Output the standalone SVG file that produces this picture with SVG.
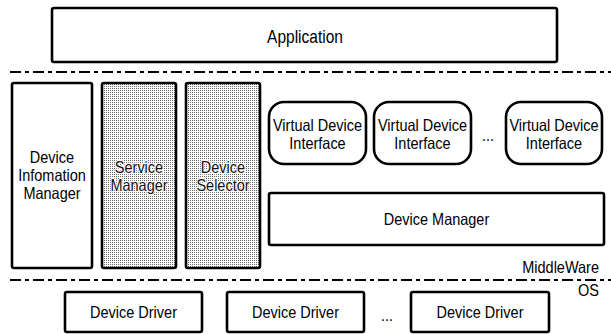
<svg xmlns="http://www.w3.org/2000/svg" width="611" height="334" viewBox="0 0 611 334">
<style>
.box{fill:#fff;stroke:#000;stroke-width:2.6}
.shade{fill:url(#dots);stroke:#000;stroke-width:2.6}
.t,.ts{font-family:"Liberation Sans",Arial,sans-serif;font-size:14.5px;text-anchor:middle;transform-box:fill-box;transform-origin:center;transform:scaleY(1.15)}
.t{fill:#000}
.ts{fill:#111;stroke:#fff;stroke-width:2;paint-order:stroke}
.r{text-anchor:end}
.sep{stroke:#000;stroke-width:2.2;stroke-dasharray:11 4 4 4;fill:none}
</style>
<defs>
<pattern id="dots" width="2" height="2" patternUnits="userSpaceOnUse">
<rect width="2" height="2" fill="#fff"/>
<rect width="1" height="1" fill="#666"/>
</pattern>
</defs>
<g id="app"><rect class="box" x="52" y="8" width="505" height="54" rx="2"/><text class="t" x="305" y="42" style="font-size:15.5px">Application</text></g>
<g id="separators">
<line class="sep" x1="10" y1="72" x2="611" y2="72"/>
<line class="sep" x1="10" y1="280" x2="611" y2="280"/>
</g>
<g id="dim"><rect class="box" x="12" y="83" width="80" height="185" rx="2"/>
<text class="t" x="52" y="162">Device</text><text class="t" x="52" y="180">Infomation</text><text class="t" x="52" y="198">Manager</text></g>
<g id="sm"><rect class="shade" x="102" y="83" width="74" height="185" rx="2"/>
<text class="ts" x="139" y="172">Service</text><text class="ts" x="139" y="190">Manager</text></g>
<g id="ds"><rect class="shade" x="186" y="83" width="74" height="185" rx="2"/>
<text class="ts" x="223" y="172">Device</text><text class="ts" x="223" y="190">Selector</text></g>
<g id="vdi1"><rect class="box" x="269" y="102" width="97" height="62" rx="15"/>
<text class="t" x="317.5" y="130">Virtual Device</text><text class="t" x="317.5" y="148">Interface</text></g>
<g id="vdi2"><rect class="box" x="374" y="102" width="97" height="62" rx="15"/>
<text class="t" x="422.5" y="130">Virtual Device</text><text class="t" x="422.5" y="148">Interface</text></g>
<text class="t" x="488" y="140">...</text>
<g id="vdi3"><rect class="box" x="506" y="102" width="96" height="62" rx="15"/>
<text class="t" x="554" y="130">Virtual Device</text><text class="t" x="554" y="148">Interface</text></g>
<g id="dm"><rect class="box" x="269" y="193" width="335" height="52" rx="2"/>
<text class="t" x="436.5" y="224">Device Manager</text></g>
<text class="t r" x="599" y="272">MiddleWare</text>
<text class="t r" x="599" y="295">OS</text>
<g id="dd1"><rect class="box" x="65" y="292" width="137" height="40" rx="2"/><text class="t" x="133.5" y="317">Device Driver</text></g>
<g id="dd2"><rect class="box" x="227" y="292" width="137" height="40" rx="2"/><text class="t" x="295.5" y="317">Device Driver</text></g>
<text class="t" x="387" y="320">...</text>
<g id="dd3"><rect class="box" x="411" y="292" width="138" height="40" rx="2"/><text class="t" x="480" y="317">Device Driver</text></g>
</svg>
